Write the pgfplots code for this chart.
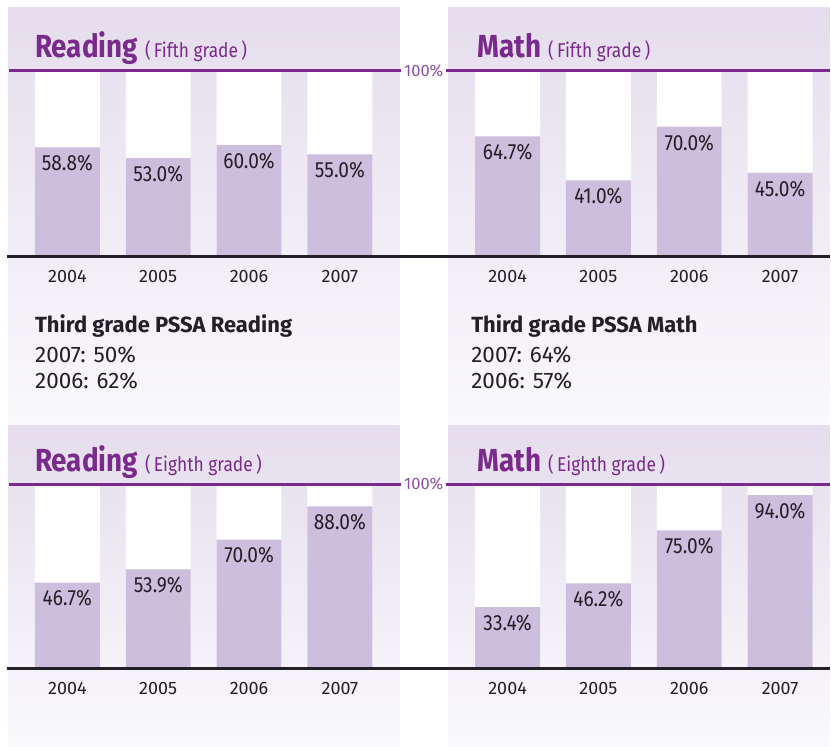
\documentclass[border=0pt]{standalone}
\usepackage{pgfplots}
\pgfplotsset{compat=1.18}
\usepackage{fontspec}
\setmainfont[FakeStretch=0.87]{Fira Sans}
\newfontfamily\wide{Fira Sans}
\definecolor{ttl}{RGB}{122,42,140}
\definecolor{hund}{RGB}{140,80,165}
\definecolor{barc}{RGB}{205,190,222}
\definecolor{bgtop}{RGB}{229,221,237}
\definecolor{bgbot}{RGB}{250,249,252}
\definecolor{txt}{RGB}{35,31,38}
\pgfplotsset{
  panel/.style={
    scale only axis, anchor=south west, ymin=0, ymax=100, xmin=0,
    axis line style={draw=none}, ytick=\empty,
    xtick={59.5,150.5,241.5,332.5}, xticklabels={2004,2005,2006,2007},
    major tick length=0pt, tick style={draw=none},
    xticklabel style={font=\wide\fontsize{18}{20}\selectfont, text=txt, anchor=center, yshift=-20pt},
    ybar, bar width=65, bar shift=0pt, clip=false,
    /pgf/number format/assume math mode=true,
  },
  whitebar/.style={fill=white, draw=none},
  valbar/.style={fill=barc, draw=none,
    nodes near coords={\pgfmathprintnumber[fixed,fixed zerofill,precision=1]{\pgfplotspointmeta}\%},
    every node near coord/.append style={font=\fontsize{22}{24}\selectfont, text=txt, anchor=center, yshift=-16pt}},
}
\begin{document}
\begin{tikzpicture}[x=1pt,y=1pt]
\path (0,0) rectangle (831,748);
% panel backgrounds
\shade[top color=bgtop, bottom color=bgbot] (8,740) rectangle (400,322);
\shade[top color=bgtop, bottom color=bgbot] (449,740) rectangle (831,322);
\shade[top color=bgtop, bottom color=bgbot] (8,322) rectangle (400,0);
\shade[top color=bgtop, bottom color=bgbot] (449,322) rectangle (831,0);

% Reading fifth
\begin{axis}[panel, at={(8pt,491pt)}, width=392pt, height=186pt, xmax=392]
\addplot[whitebar] coordinates {(59.5,100) (150.5,100) (241.5,100) (332.5,100)};
\addplot[valbar] coordinates {(59.5,58.8) (150.5,53.0) (241.5,60.0) (332.5,55.0)};
\end{axis}
% Math fifth
\begin{axis}[panel, at={(449pt,491pt)}, width=382pt, height=186pt, xmax=382]
\addplot[whitebar] coordinates {(59.5,100) (150.5,100) (241.5,100) (332.5,100)};
\addplot[valbar] coordinates {(59.5,64.7) (150.5,41.0) (241.5,70.0) (332.5,45.0)};
\end{axis}
% Reading eighth
\begin{axis}[panel, at={(8pt,78pt)}, width=392pt, height=185pt, xmax=392]
\addplot[whitebar] coordinates {(59.5,100) (150.5,100) (241.5,100) (332.5,100)};
\addplot[valbar] coordinates {(59.5,46.7) (150.5,53.9) (241.5,70.0) (332.5,88.0)};
\end{axis}
% Math eighth
\begin{axis}[panel, at={(449pt,78pt)}, width=382pt, height=185pt, xmax=382]
\addplot[whitebar] coordinates {(59.5,100) (150.5,100) (241.5,100) (332.5,100)};
\addplot[valbar] coordinates {(59.5,33.4) (150.5,46.2) (241.5,75.0) (332.5,94.0)};
\end{axis}

% lines
\draw[ttl, line width=3pt] (9,677) -- (402,677);
\draw[ttl, line width=3pt] (447,677) -- (831,677);
\draw[ttl, line width=3pt] (9,263) -- (402,263);
\draw[ttl, line width=3pt] (447,263) -- (831,263);
\fill[white] (403,670) rectangle (446,684);
\fill[white] (403,256) rectangle (446,270);
\node[text=hund, font=\wide\fontsize{16.5}{18}\selectfont, inner sep=0pt] at (424.5,677) {100\%};
\node[text=hund, font=\wide\fontsize{16.5}{18}\selectfont, inner sep=0pt] at (424.5,263) {100\%};
\draw[txt, line width=3pt] (7,491) -- (831,491);
\draw[txt, line width=3pt] (7,78) -- (831,78);

% titles
\node[anchor=base west, text=ttl, inner sep=0pt] at (35,690) {{\fontsize{32}{34}\selectfont\bfseries Reading}\hspace{7pt}{\fontsize{20}{22}\selectfont(\,Fifth grade\,)}};
\node[anchor=base west, text=ttl, inner sep=0pt] at (478,690) {{\fontsize{32}{34}\selectfont\bfseries Math}\hspace{7pt}{\fontsize{20}{22}\selectfont(\,Fifth grade\,)}};
\node[anchor=base west, text=ttl, inner sep=0pt] at (35,276) {{\fontsize{32}{34}\selectfont\bfseries Reading}\hspace{7pt}{\fontsize{20}{22}\selectfont(\,Eighth grade\,)}};
\node[anchor=base west, text=ttl, inner sep=0pt] at (478,276) {{\fontsize{32}{34}\selectfont\bfseries Math}\hspace{7pt}{\fontsize{20}{22}\selectfont(\,Eighth grade\,)}};

% third grade text
\node[anchor=base west, text=txt, inner sep=0pt, font=\wide\fontsize{22}{24}\selectfont\bfseries] at (35,415) {Third grade PSSA Reading};
\node[anchor=base west, text=txt, inner sep=0pt, font=\wide\fontsize{22.5}{24}\selectfont] at (35,385) {2007: 50\%};
\node[anchor=base west, text=txt, inner sep=0pt, font=\wide\fontsize{22.5}{24}\selectfont] at (35,359) {2006: 62\%};
\node[anchor=base west, text=txt, inner sep=0pt, font=\wide\fontsize{22}{24}\selectfont\bfseries] at (472,415) {Third grade PSSA Math};
\node[anchor=base west, text=txt, inner sep=0pt, font=\wide\fontsize{22.5}{24}\selectfont] at (472,385) {2007: 64\%};
\node[anchor=base west, text=txt, inner sep=0pt, font=\wide\fontsize{22.5}{24}\selectfont] at (472,359) {2006: 57\%};
\end{tikzpicture}
\end{document}
